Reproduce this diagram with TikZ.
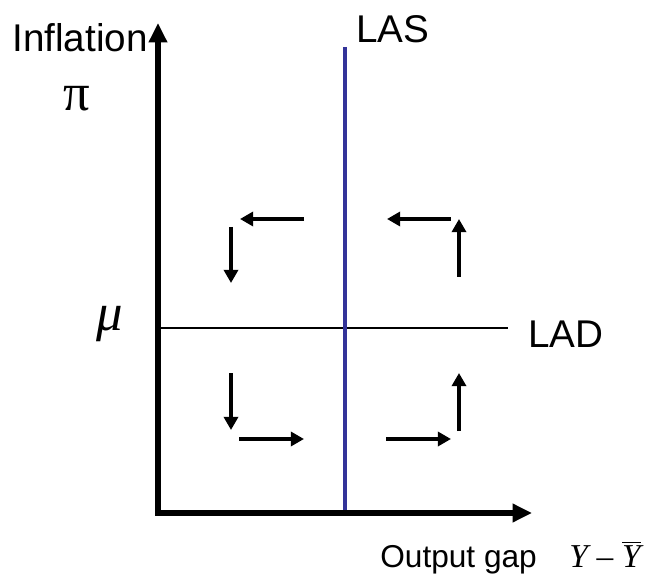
\documentclass[tikz,border=0pt]{standalone}
\usepackage{fontspec}
\setmainfont{Liberation Sans}
\newfontfamily\timesfont{Liberation Serif}
\usetikzlibrary{arrows.meta}
\definecolor{lasblue}{RGB}{51,51,153}

\begin{document}
\begin{tikzpicture}[x=0.02cm, y=-0.02cm,
    axis/.style={line width=3.4pt, {Triangle[length=11pt, width=10pt]}-{Triangle[length=11pt, width=10pt]}},
    flow/.style={line width=2.2pt, -{Triangle[length=7.5pt, width=8pt]}},
    lbl/.style={inner sep=0pt, anchor=base west, font=\fontsize{22}{26}\selectfont}]
    \useasboundingbox (0,0) rectangle (650,581);

    % Long-run curves
    \coordinate (lad-l) at (158,328);
    \coordinate (lad-r) at (508,328);
    \draw[line width=1.3pt] (lad-l) -- (lad-r);
    \coordinate (las-top) at (345,47);
    \coordinate (las-bot) at (345,513);
    \draw[line width=2.2pt, lasblue] (las-top) -- (las-bot);

    % Axes
    \coordinate (ytop) at (158,23);
    \coordinate (O) at (158,513);
    \coordinate (xend) at (532,513);
    \draw[axis] (ytop) -- (O) -- (xend);

    % Labels
    \node[lbl] (infl) at (12,52) {Inflation};
    \node[lbl, font=\timesfont\fontsize{30}{34}\selectfont] (pi) at (63,111) {π};
    \node[lbl, font=\timesfont\itshape\fontsize{30}{34}\selectfont] (mu) at (96,331) {μ};
    \node[lbl] (las) at (356,43) {LAS};
    \node[lbl] (lad) at (528,348) {LAD};
    \node[lbl, font=\fontsize{18}{22}\selectfont] (gap) at (380,567) {Output gap};
    \node[lbl, font=\timesfont\itshape\fontsize{19}{23}\selectfont] (ygap) at (569,567)
        {Y\hspace{5pt}–\hspace{5pt}$\overline{\mbox{\timesfont\itshape Y}}$};

    % Adjustment arrows, upper left
    \coordinate (ul-a) at (304,219);
    \coordinate (ul-b) at (240,219);
    \coordinate (ul-c) at (231,227);
    \coordinate (ul-d) at (231,283);
    \draw[flow] (ul-a) -- (ul-b);
    \draw[flow] (ul-c) -- (ul-d);

    % upper right
    \coordinate (ur-a) at (451,219);
    \coordinate (ur-b) at (387,219);
    \coordinate (ur-c) at (459,277);
    \coordinate (ur-d) at (459,219);
    \draw[flow] (ur-a) -- (ur-b);
    \draw[flow] (ur-c) -- (ur-d);

    % lower left
    \coordinate (ll-a) at (231,373);
    \coordinate (ll-b) at (231,430);
    \coordinate (ll-c) at (239,439);
    \coordinate (ll-d) at (304,439);
    \draw[flow] (ll-a) -- (ll-b);
    \draw[flow] (ll-c) -- (ll-d);

    % lower right
    \coordinate (lr-a) at (386,439);
    \coordinate (lr-b) at (451,439);
    \coordinate (lr-c) at (459,431);
    \coordinate (lr-d) at (459,373);
    \draw[flow] (lr-a) -- (lr-b);
    \draw[flow] (lr-c) -- (lr-d);

\end{tikzpicture}
\end{document}
